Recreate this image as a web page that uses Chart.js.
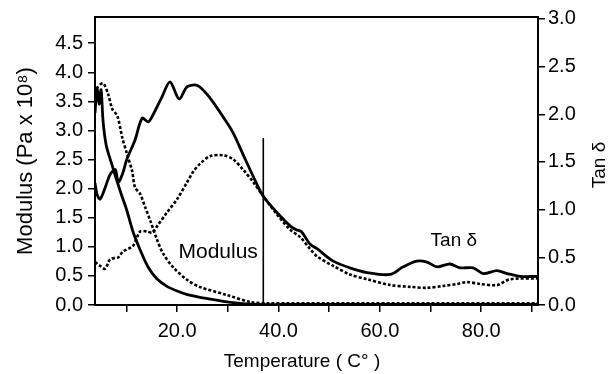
<!DOCTYPE html>
<html>
<head>
<meta charset="utf-8">
<script src="https://cdn.jsdelivr.net/npm/chart.js@4"></script>
<style>
    html, body { margin: 0; padding: 0; background: #fff; }
    canvas { display: block; }
</style>
</head>
<body>
<canvas id="dmaChart" width="613" height="374"></canvas>
<script>
// modulus, solid curve (left axis, Pa x 10^8)
const modSolidT = [3.8, 4.2, 4.6, 5.0, 5.4, 6.0, 7.0, 8.0, 9.0, 10.1, 11.3, 12.7, 14.3, 16.0, 18.0, 20.0, 22.0, 26.0, 31.0, 36.0, 45.0, 60.0, 91.2];
const modSolidV = [3.3, 3.72, 3.45, 3.7, 3.15, 2.75, 2.45, 2.17, 1.9, 1.62, 1.26, 0.95, 0.65, 0.45, 0.32, 0.24, 0.18, 0.11, 0.04, 0.01, 0.01, 0.01, 0.01];

// modulus, dotted curve
const modDotT = [3.8, 4.2, 5.4, 6.4, 7.2, 8.2, 9.2, 10.1, 11.1, 11.7, 12.7, 13.7, 14.7, 16.1, 17.2, 19.2, 22.0, 24.5, 29.9, 34.5, 37.8, 50.0, 70.0, 91.2];
const modDotV = [3.55, 3.73, 3.81, 3.62, 3.37, 3.25, 2.87, 2.6, 2.31, 2.02, 1.91, 1.68, 1.45, 1.11, 0.89, 0.65, 0.43, 0.31, 0.17, 0.05, 0.03, 0.03, 0.03, 0.03];

// tan delta, solid curve (right axis)
const tanSolidT = [3.8, 4.2, 4.8, 5.8, 6.8, 7.8, 8.4, 9.2, 10.1, 11.7, 13.1, 14.3, 15.3, 17.0, 18.6, 20.4, 22.0, 24.1, 26.5, 29.1, 31.0, 33.0, 35.0, 37.0, 39.7, 42.3, 43.5, 44.5, 46.2, 47.6, 50.8, 54.1, 57.5, 62.0, 64.6, 67.3, 69.3, 71.3, 73.8, 75.8, 78.4, 80.4, 83.1, 85.1, 87.7, 91.2];
const tanSolidV = [1.28, 1.16, 1.11, 1.23, 1.37, 1.42, 1.29, 1.37, 1.53, 1.73, 1.96, 1.92, 2.0, 2.18, 2.34, 2.16, 2.29, 2.3, 2.17, 1.97, 1.81, 1.58, 1.35, 1.14, 0.97, 0.83, 0.79, 0.77, 0.64, 0.59, 0.46, 0.39, 0.34, 0.32, 0.4, 0.46, 0.45, 0.4, 0.43, 0.39, 0.39, 0.33, 0.36, 0.33, 0.3, 0.3];

// tan delta, dotted curve
const tanDotT = [3.8, 4.8, 5.8, 6.8, 8.4, 9.3, 11.3, 12.7, 14.1, 15.1, 16.1, 18.0, 20.0, 22.0, 23.2, 24.5, 26.5, 29.1, 31.0, 33.0, 35.0, 37.0, 39.7, 42.3, 44.3, 46.2, 47.6, 50.8, 54.1, 57.5, 62.0, 66.0, 69.3, 72.5, 75.2, 77.2, 79.8, 83.1, 85.7, 91.2];
const tanDotV = [0.45, 0.41, 0.38, 0.48, 0.5, 0.56, 0.62, 0.77, 0.77, 0.76, 0.83, 0.97, 1.11, 1.29, 1.4, 1.48, 1.56, 1.57, 1.53, 1.42, 1.29, 1.14, 0.95, 0.79, 0.71, 0.59, 0.51, 0.41, 0.32, 0.27, 0.21, 0.19, 0.18, 0.2, 0.22, 0.24, 0.22, 0.21, 0.27, 0.28];

// vertical marker line
const markerT = [37.0, 37.0];
const markerV = [0, 2.87];

const xTitle = 'Temperature ( C\u00B0 )';
const yLeftTitle = 'Modulus (Pa x 10\u2078)';
const yRightTitle = 'Tan \u03B4';

const FONT = '"Liberation Sans", Arial, Helvetica, sans-serif';
const toPoints = (xs, ys) => xs.map((x, i) => ({ x, y: ys[i] }));

const frameAndLabels = {
    id: 'frameAndLabels',
    afterDraw(chart) {
        const { ctx, chartArea: a, scales } = chart;
        ctx.save();
        ctx.strokeStyle = '#000';
        ctx.lineWidth = 2;
        ctx.strokeRect(a.left, a.top, a.right - a.left, a.bottom - a.top);

        ctx.fillStyle = '#000';
        ctx.textAlign = 'center';
        ctx.textBaseline = 'middle';

        ctx.font = `21px ${FONT}`;
        ctx.fillText('Modulus', scales.x.getPixelForValue(28.1), scales.yMod.getPixelForValue(0.9));
        ctx.font = `19px ${FONT}`;
        ctx.fillText('Tan \u03B4', scales.x.getPixelForValue(74.6), scales.yTan.getPixelForValue(0.67));

        ctx.font = `19px ${FONT}`;
        ctx.fillText(xTitle, 302, 362);

        ctx.save();
        ctx.translate(26, (a.top + a.bottom) / 2);
        ctx.rotate(-Math.PI / 2);
        ctx.font = `22px ${FONT}`;
        ctx.fillText(yLeftTitle, 0, 0);
        ctx.restore();

        ctx.save();
        ctx.translate(600, 165);
        ctx.rotate(-Math.PI / 2);
        ctx.font = `19px ${FONT}`;
        ctx.fillText(yRightTitle, 0, 0);
        ctx.restore();

        ctx.restore();
    },
};

const solid = { borderColor: '#000', borderWidth: 2.8, pointRadius: 0, tension: 0.3, fill: false };
const dotted = { ...solid, borderWidth: 2.6, borderDash: [3, 2] };

new Chart(document.getElementById('dmaChart'), {
    type: 'line',
    data: {
        datasets: [
            { ...solid, label: 'Modulus', data: toPoints(modSolidT, modSolidV), yAxisID: 'yMod' },
            { ...dotted, label: 'Modulus (dotted)', data: toPoints(modDotT, modDotV), yAxisID: 'yMod' },
            { ...solid, label: 'Tan d', data: toPoints(tanSolidT, tanSolidV), yAxisID: 'yTan' },
            { ...dotted, label: 'Tan d (dotted)', data: toPoints(tanDotT, tanDotV), yAxisID: 'yTan' },
            { ...solid, label: 'marker', borderWidth: 1.6, tension: 0, data: toPoints(markerT, markerV), yAxisID: 'yMod' },
        ],
    },
    options: {
        responsive: false,
        animation: false,
        layout: { padding: { top: 16, left: 0, right: 0, bottom: 0 } },
        plugins: {
            legend: { display: false },
            tooltip: { enabled: false },
        },
        scales: {
            x: {
                type: 'linear',
                min: 3.8,
                max: 91.2,
                afterFit: (scale) => { scale.height = 69; },
                grid: { drawOnChartArea: false, color: '#000', tickLength: 7, lineWidth: 1.5 },
                border: { display: true, color: '#000', width: 2 },
                ticks: {
                    stepSize: 10,
                    includeBounds: false,
                    autoSkip: false,
                    maxRotation: 0,
                    padding: 7,
                    color: '#000',
                    font: { family: FONT, size: 20 },
                    callback: (value) => (value % 20 === 0 ? value.toFixed(1) : ''),
                },
            },
            yMod: {
                type: 'linear',
                position: 'left',
                min: 0,
                max: 4.95,
                afterFit: (scale) => { scale.width = 95; },
                grid: { drawOnChartArea: false, color: '#000', tickLength: 7, lineWidth: 1.5 },
                border: { display: true, color: '#000', width: 2 },
                ticks: {
                    stepSize: 0.5,
                    includeBounds: false,
                    padding: 5,
                    color: '#000',
                    font: { family: FONT, size: 20 },
                    callback: (value) => value.toFixed(1),
                },
            },
            yTan: {
                type: 'linear',
                position: 'right',
                min: 0,
                max: 3.02,
                afterFit: (scale) => { scale.width = 75; },
                grid: { drawOnChartArea: false, color: '#000', tickLength: 7, lineWidth: 1.5 },
                border: { display: true, color: '#000', width: 2 },
                ticks: {
                    stepSize: 0.5,
                    includeBounds: false,
                    padding: 3,
                    color: '#000',
                    font: { family: FONT, size: 20 },
                    callback: (value) => value.toFixed(1),
                },
            },
        },
    },
    plugins: [frameAndLabels],
});
</script>
</body>
</html>
